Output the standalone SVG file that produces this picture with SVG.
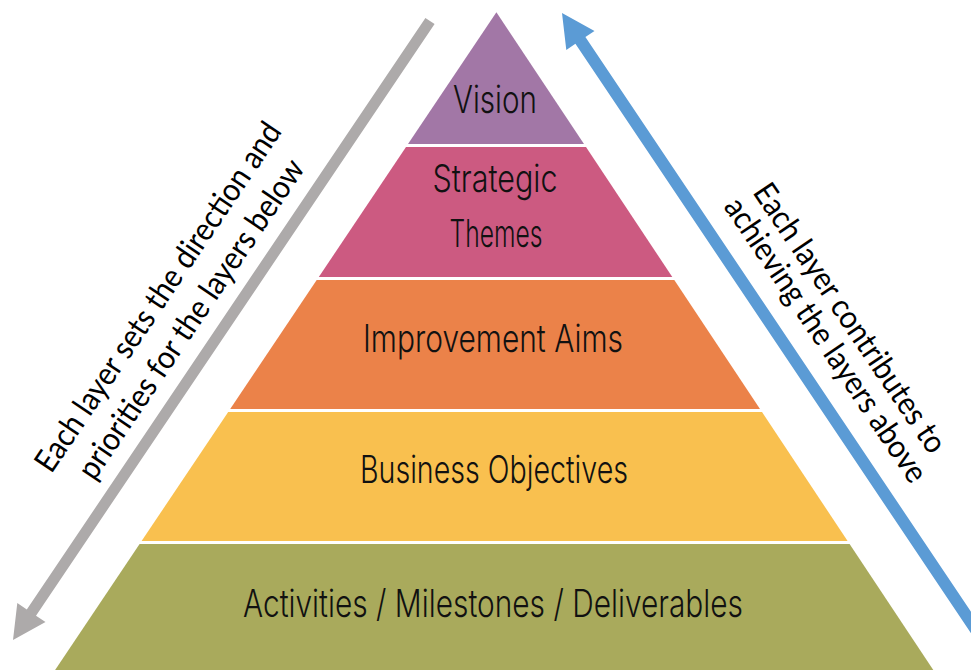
<svg xmlns="http://www.w3.org/2000/svg" width="971" height="670" viewBox="0 0 971 670">
  <style>
    .lbl { font-family: Inter, "Open Sans", "DejaVu Sans", sans-serif; font-weight: 300; font-size: 38px; fill: #111111; text-anchor: middle; }
    .side { font-family: Lato, "Liberation Sans", sans-serif; font-size: 32px; fill: #000000; text-anchor: middle; }
  </style>
  <rect width="971" height="670" fill="#ffffff"/>
  <g id="connectors">
    <polygon id="arrow-down" fill="#ADAAAA" points="425.4,17.9 434.6,24.1 36,615.7 45.5,622.1 13,640 17.3,603.1 26.8,609.5"/>
    <polygon id="arrow-up" fill="#5B9BD5" points="562,13 594.5,30.9 585.4,37.1 1028,696.7 1018,703.3 575.4,43.7 566.3,49.9"/>
  </g>
  <g id="vision">
    <polygon fill="#A277A6" points="496.4,12.2 584,144 408,144"/>
    <text class="lbl" x="495" y="113" textLength="84" lengthAdjust="spacingAndGlyphs">Vision</text>
  </g>
  <g id="strategic-themes">
    <polygon fill="#CC5A81" points="406,147 586,147 672.3,277 318.8,277"/>
    <text class="lbl" x="495" y="192" textLength="125" lengthAdjust="spacingAndGlyphs">Strategic</text>
    <text class="lbl" x="496" y="247" textLength="93" lengthAdjust="spacingAndGlyphs">Themes</text>
  </g>
  <g id="improvement-aims">
    <polygon fill="#EB8249" points="316.7,280 674.3,280 760,409 230.2,409"/>
    <text class="lbl" x="493" y="352" textLength="260" lengthAdjust="spacingAndGlyphs">Improvement Aims</text>
  </g>
  <g id="business-objectives">
    <polygon fill="#F9C04F" points="228.2,412 762,412 847.6,541 141.6,541"/>
    <text class="lbl" x="494" y="483" textLength="268" lengthAdjust="spacingAndGlyphs">Business Objectives</text>
  </g>
  <g id="activities">
    <polygon fill="#A9AA5C" points="139.6,544 849.6,544 933.3,670 55.1,670"/>
    <text class="lbl" x="493" y="617" textLength="500" lengthAdjust="spacingAndGlyphs">Activities / Milestones / Deliverables</text>
  </g>
  <g id="left-note">
    <text class="side" transform="translate(167,303) rotate(-56)" textLength="414" lengthAdjust="spacingAndGlyphs">Each layer sets the direction and</text>
    <text class="side" transform="translate(200,325) rotate(-56)" textLength="378" lengthAdjust="spacingAndGlyphs">priorities for the layers below</text>
  </g>
  <g id="right-note">
    <text class="side" transform="translate(841,324) rotate(56)" textLength="318" lengthAdjust="spacingAndGlyphs">Each layer contributes to</text>
    <text class="side" transform="translate(817,346) rotate(56)" textLength="336" lengthAdjust="spacingAndGlyphs">achieving the layers above</text>
  </g>
</svg>
